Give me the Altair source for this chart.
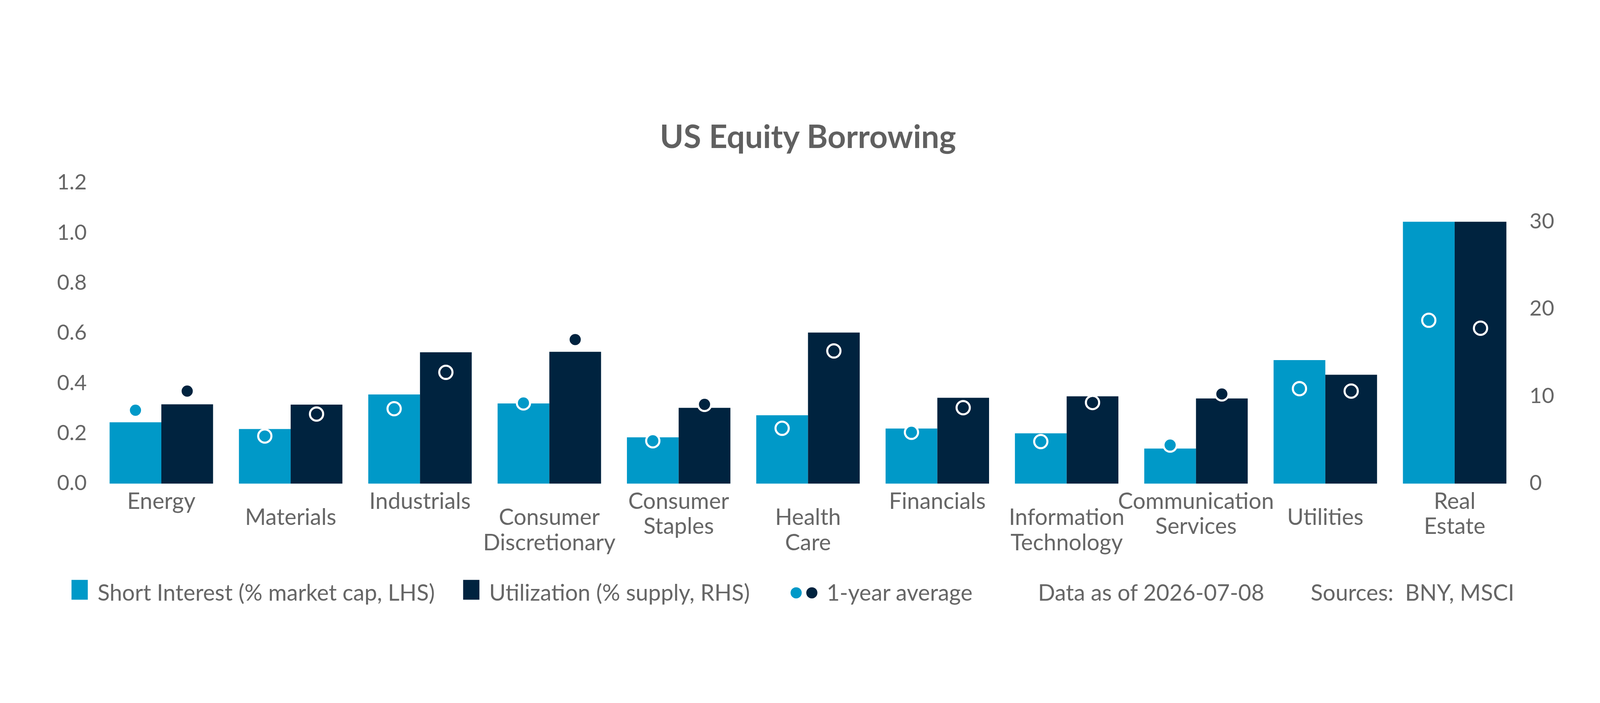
import pandas as pd
import altair as alt

sectors = [
    "Energy", "Materials", "Industrials", "Consumer Discretionary",
    "Consumer Staples", "Health Care", "Financials",
    "Information Technology", "Communication Services", "Utilities",
    "Real Estate",
]
short_interest = [0.245, 0.218, 0.356, 0.320, 0.185, 0.273, 0.220, 0.201, 0.140, 0.493, 1.045]
short_interest_avg = [0.293, 0.190, 0.299, 0.322, 0.171, 0.221, 0.205, 0.168, 0.154, 0.379, 0.652]
utilization = [9.08, 9.05, 15.05, 15.1, 8.68, 17.3, 9.83, 10.0, 9.76, 12.47, 30.0]
utilization_avg = [10.6, 7.97, 12.75, 16.5, 9.08, 15.2, 8.7, 9.29, 10.27, 10.6, 17.8]

left_ticks = [0.0, 0.2, 0.4, 0.6, 0.8, 1.0, 1.2]
right_ticks = [0, 10, 20, 30]

title_text = "US Equity Borrowing"
legend_si = "Short Interest (% market cap, LHS)"
legend_ut = "Utilization (% supply, RHS)"
legend_avg = "1-year average"
note_date = "Data as of 2026-07-08"
note_source = "Sources:\u00a0 BNY, MSCI"

SI_COLOR = "#0099c8"
UT_COLOR = "#00233f"
TEXT_COLOR = "#666666"
FONT = "Lato"
TEXT_SIZE = 76

W, H = 4806, 1016

si_df = pd.DataFrame({"sector": sectors, "series": "si",
                      "value": short_interest, "avg": short_interest_avg})
ut_df = pd.DataFrame({"sector": sectors, "series": "ut",
                      "value": utilization, "avg": utilization_avg})
label_df = pd.DataFrame({"sector": sectors, "idx": range(len(sectors))})

x_enc = alt.X("sector:N", sort=sectors, axis=None,
              scale=alt.Scale(paddingInner=0.2, paddingOuter=0.1))
xoff_enc = alt.XOffset("series:N", scale=alt.Scale(domain=["si", "ut"]))

axis_style = dict(domain=False, ticks=False, grid=False, title=None,
                  labelFont=FONT, labelFontSize=72, labelColor=TEXT_COLOR,
                  labelPadding=34)

dot_style = dict(filled=True, size=2000, stroke="white", strokeWidth=7, opacity=1)

si_scale = alt.Scale(domain=[0, 1.2], nice=False)
ut_scale = alt.Scale(domain=[0, 34.44], nice=False)

si_bars = alt.Chart(si_df).mark_bar(color=SI_COLOR).encode(
    x=x_enc, xOffset=xoff_enc,
    y=alt.Y("value:Q", scale=si_scale,
            axis=alt.Axis(orient="left", values=left_ticks, format=".1f", **axis_style)),
)
ut_bars = alt.Chart(ut_df).mark_bar(color=UT_COLOR).encode(
    x=x_enc, xOffset=xoff_enc,
    y=alt.Y("value:Q", scale=ut_scale,
            axis=alt.Axis(orient="right", values=right_ticks, format="d", **axis_style)),
)
si_dots = alt.Chart(si_df).mark_point(fill=SI_COLOR, **dot_style).encode(
    x=x_enc, xOffset=xoff_enc, y=alt.Y("avg:Q", scale=si_scale, axis=None),
)
ut_dots = alt.Chart(ut_df).mark_point(fill=UT_COLOR, **dot_style).encode(
    x=x_enc, xOffset=xoff_enc, y=alt.Y("avg:Q", scale=ut_scale, axis=None),
)

# staggered category labels, split into lines at spaces
labels = alt.Chart(label_df).transform_calculate(
    lines="split(datum.sector, ' ')"
)
label_style = dict(font=FONT, fontSize=TEXT_SIZE, color=TEXT_COLOR,
                   baseline="alphabetic", lineHeight=85)
labels_top = labels.transform_filter("datum.idx % 2 == 0").mark_text(
    **label_style).encode(x=x_enc, y=alt.value(H + 85), text="lines:N")
labels_low = labels.transform_filter("datum.idx % 2 == 1").mark_text(
    **label_style).encode(x=x_enc, y=alt.value(H + 140), text="lines:N")


def note(text, x, y, **kw):
    style = dict(font=FONT, fontSize=TEXT_SIZE, color=TEXT_COLOR, align="left",
                 baseline="alphabetic")
    style.update(kw)
    return alt.Chart(pd.DataFrame({"t": [text]})).mark_text(**style).encode(
        x=alt.value(x), y=alt.value(y), text="t:N"
    )


def swatch(color, x):
    return alt.Chart(pd.DataFrame({"t": [color]})).mark_rect(color=color).encode(
        x=alt.value(x), x2=alt.value(x + 55),
        y=alt.value(H + 325), y2=alt.value(H + 392)
    )


def legend_dot(color, x):
    return alt.Chart(pd.DataFrame({"t": [color]})).mark_point(fill=color, **dot_style).encode(
        x=alt.value(x), y=alt.value(H + 369)
    )


title = note(title_text, W / 2, -118, align="center", fontSize=108,
             fontWeight="bold", color="#606060")

legend = [
    swatch(SI_COLOR, -85),
    note(legend_si, 3, H + 395),
    swatch(UT_COLOR, 1238),
    note(legend_ut, 1326, H + 395),
    legend_dot(SI_COLOR, 2363),
    legend_dot(UT_COLOR, 2416),
    note(legend_avg, 2466, H + 395),
    note(note_date, 3180, H + 395),
    note(note_source, 4101, H + 395),
]

chart = (
    alt.layer(si_bars, ut_bars, si_dots, ut_dots, labels_top, labels_low,
              title, *legend)
    .resolve_scale(y="independent")
    .properties(
        width=W, height=H,
        autosize=alt.AutoSizeParams(type="none"),
        padding={"left": 316, "top": 326, "right": 262, "bottom": 420},
        background="white",
    )
    .configure_view(strokeWidth=0)
)

chart.save("out.html", embed_options={"renderer": "svg", "actions": False})
